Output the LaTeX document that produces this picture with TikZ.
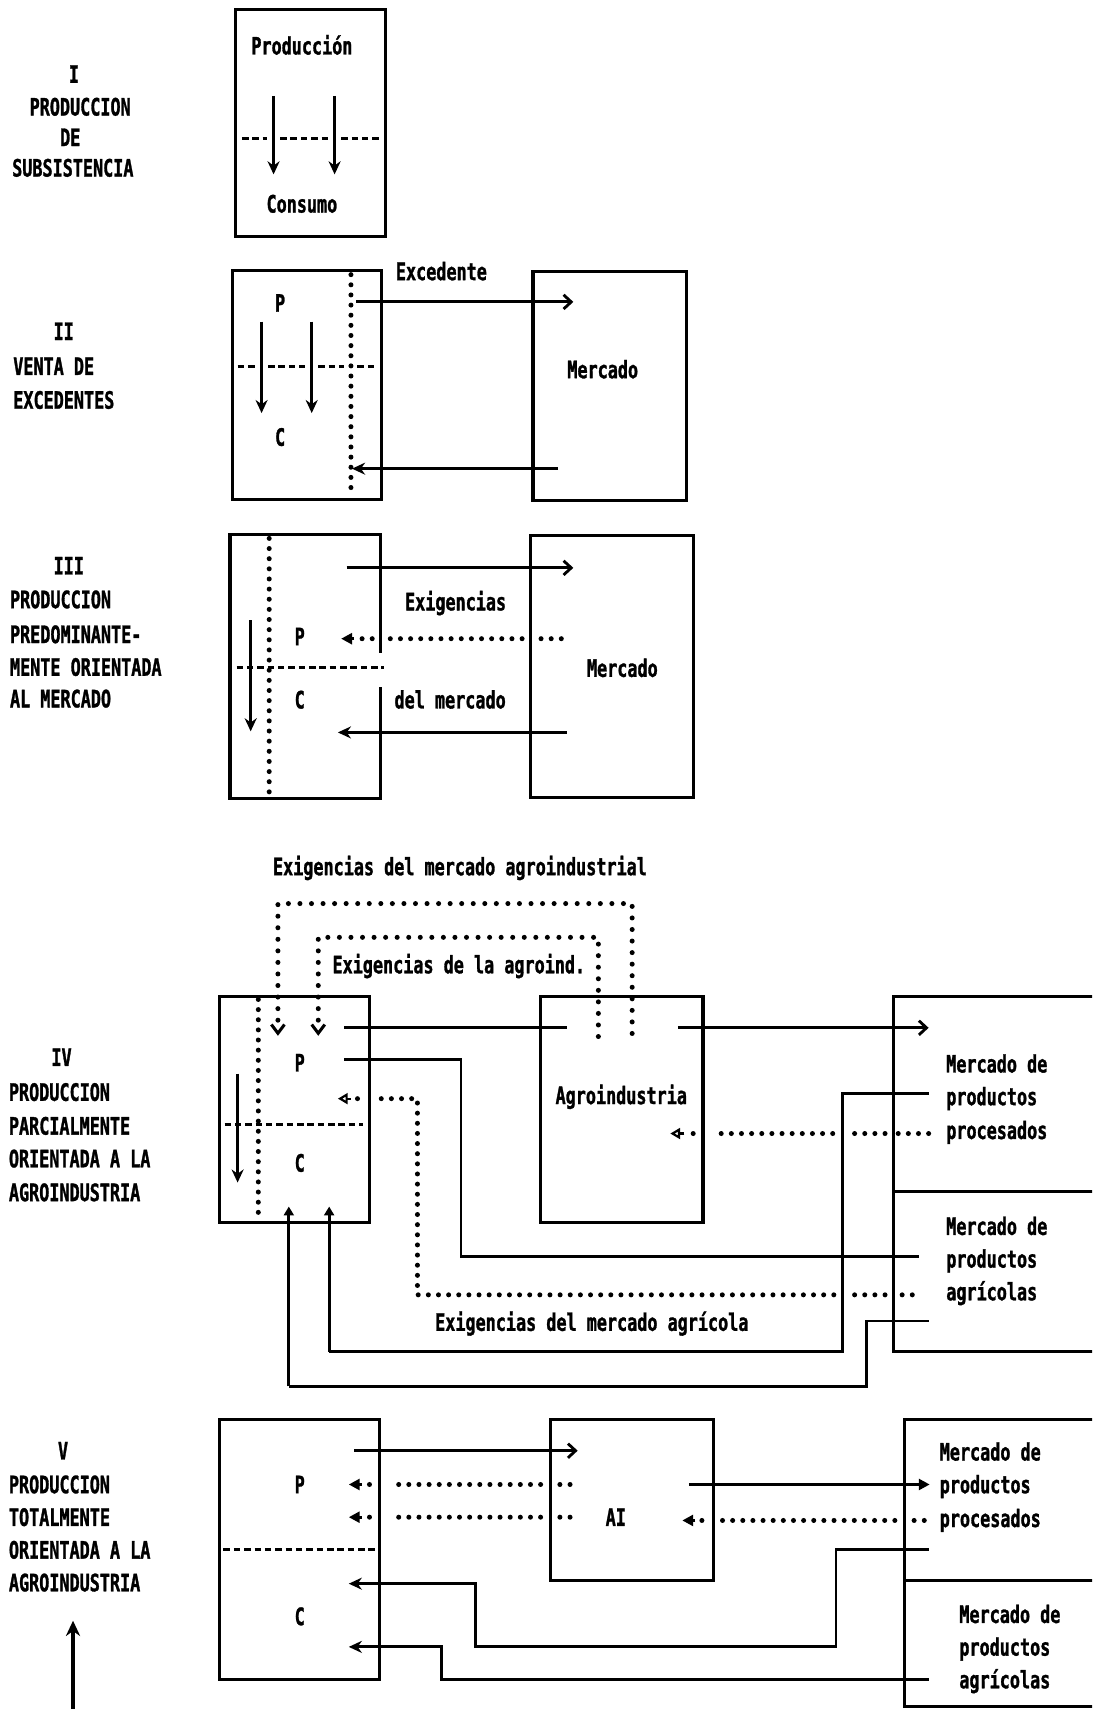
\documentclass[tikz,border=0pt]{standalone}
\usepackage{fontspec}
\newfontfamily\dm{DejaVu Sans Mono}[FakeStretch=0.70,FakeBold=1.2]
\usetikzlibrary{arrows.meta}
\tikzset{
  bx/.style={draw, line width=2.8pt, inner sep=0pt, outer sep=0pt, anchor=north west},
  bxn/.style={inner sep=0pt, outer sep=0pt, anchor=north west},
  bl/.style={line width=2.8pt},
  tx/.style={font=\dm\bfseries\fontsize{22}{26}\selectfont, inner sep=0pt, anchor=base, yshift=-8pt},
  lt/.style={tx, anchor=base west},
  ln/.style={line width=2.6pt},
  barb/.style={ln, -{Straight Barb[length=7pt,width=13pt,line width=2.6pt]}},
  stl/.style={ln, -{Stealth[length=12pt,width=11pt]}},
  tri/.style={ln, -{Triangle[length=10pt,width=10pt]}},
  stri/.style={ln, -{Triangle[length=8pt,width=9pt]}},
  otri/.style={line width=2pt, -{Triangle[open,length=9pt,width=10pt]}},
  dots/.style={line width=4.6pt, line cap=round, dash pattern=on 0pt off 9.3pt},
  wdots/.style={line width=4.6pt, line cap=round, dash pattern=on 0pt off 10.6pt},
  dsh/.style={line width=2.8pt, dash pattern=on 6pt off 3.5pt},
  chev/.style={line width=2.8pt},
}
\begin{document}
\begin{tikzpicture}[x=1pt,y=-1pt]
\useasboundingbox (0,0) rectangle (1002,1568);
\clip (0,0) rectangle (1002,1568);
\fill[white] (0,0) rectangle (1002,1568);

% ---------------- Section I ----------------
\node[lt] (l1a) at (63,68) {I};
\node[lt] (l1b) at (27,98) {PRODUCCION};
\node[lt] (l1c) at (55,126) {DE};
\node[lt] (l1d) at (11,154) {SUBSISTENCIA};
\node[bx, minimum width=138pt, minimum height=208pt] (b1) at (216,9) {};
\node[tx] (t1a) at (277,42) {Producción};
\node[tx] (t1b) at (277,187) {Consumo};
\path (251,88) coordinate (i1a) (251,160) coordinate (i1b)
      (307,88) coordinate (i2a) (307,160) coordinate (i2b)
      (222,127) coordinate (id1) (245,127) coordinate (id2)
      (257,127) coordinate (id3) (301,127) coordinate (id4)
      (313,127) coordinate (id5) (348,127) coordinate (id6);
\draw[stl] (i1a) -- (i1b);
\draw[stl] (i2a) -- (i2b);
\draw[dsh] (id1) -- (id2) (id3) -- (id4) (id5) -- (id6);

% ---------------- Section II ----------------
\node[lt] (l2a) at (49,304) {II};
\node[lt] (l2b) at (12,336) {VENTA DE};
\node[lt] (l2c) at (12,367) {EXCEDENTES};
\node[bx, minimum width=137pt, minimum height=210pt] (b2l) at (213,248) {};
\node[bx, minimum width=141pt, minimum height=210pt] (b2r) at (489,249) {};
\node[tx] (t2p) at (257,278) {P};
\node[tx] (t2c) at (257,401) {C};
\node[tx] (t2m) at (553,339) {Mercado};
\node[tx] (t2e) at (405,249) {Excedente};
\path (240,295) coordinate (j1a) (240,379) coordinate (j1b)
      (286,295) coordinate (j2a) (286,379) coordinate (j2b)
      (218,336) coordinate (jd1) (234,336) coordinate (jd2)
      (246,336) coordinate (jd3) (280,336) coordinate (jd4)
      (292,336) coordinate (jd5) (316,336) coordinate (jd6)
      (328,336) coordinate (jd7) (346,336) coordinate (jd8)
      (322,252) coordinate (jv1) (322,455) coordinate (jv2)
      (327,277) coordinate (je1) (526,277) coordinate (je2)
      (512,430) coordinate (jr1) (323,430) coordinate (jr2);
\draw[stl] (j1a) -- (j1b);
\draw[stl] (j2a) -- (j2b);
\draw[dsh] (jd1) -- (jd2) (jd3) -- (jd4) (jd5) -- (jd6) (jd7) -- (jd8);
\draw[dots] (jv1) -- (jv2);
\draw[barb] (je1) -- (je2);
\draw[stl] (jr1) -- (jr2);

% ---------------- Section III ----------------
\node[lt] (l3a) at (49,519) {III};
\node[lt] (l3b) at (9,550) {PRODUCCION};
\node[lt] (l3c) at (9,582) {PREDOMINANTE-};
\node[lt] (l3d) at (9,612) {MENTE ORIENTADA};
\node[lt] (l3e) at (9,641) {AL MERCADO};
\node[bxn, minimum width=138pt, minimum height=243pt] (b3l) at (211,490) {};
\draw[bl] ([yshift=-109pt]b3l.north east) -- (b3l.north east) -- (b3l.north west)
   -- (b3l.south west) -- (b3l.south east) -- ([yshift=103pt]b3l.south east);
\node[bx, minimum width=149pt, minimum height=241pt] (b3r) at (487,491) {};
\node[tx] (t3p) at (275,584) {P};
\node[tx] (t3c) at (275,642) {C};
\node[tx] (t3x) at (418,552) {Exigencias};
\node[tx] (t3d) at (413,642) {del mercado};
\node[tx] (t3m) at (571,613) {Mercado};
\path (247,494) coordinate (kv1) (247,730) coordinate (kv2)
      (230,569) coordinate (ka1) (230,671) coordinate (ka2)
      (217,612) coordinate (kd1) (352,612) coordinate (kd2)
      (318,521) coordinate (kt1) (526,521) coordinate (kt2)
      (520,672) coordinate (kb1) (310,672) coordinate (kb2)
      (515,586) coordinate (kp1) (496,586) coordinate (kp2)
      (479,586) coordinate (kp3) (355,586) coordinate (kp4)
      (341.5,586) coordinate (kp5) (332,586) coordinate (kp6)
      (325,586) coordinate (kh1) (313,586) coordinate (kh2);
\draw[dots] (kv1) -- (kv2);
\draw[stl] (ka1) -- (ka2);
\draw[dsh] (kd1) -- (kd2);
\draw[barb] (kt1) -- (kt2);
\draw[stl] (kb1) -- (kb2);
\draw[dots] (kp1) -- (kp2) (kp3) -- (kp4) (kp5) -- (kp6);
\draw[tri] (kh1) -- (kh2);

% ---------------- Section IV ----------------
\node[lt] (l4a) at (47,970) {IV};
\node[lt] (l4b) at (8,1002) {PRODUCCION};
\node[lt] (l4c) at (8,1033) {PARCIALMENTE};
\node[lt] (l4d) at (8,1063) {ORIENTADA A LA};
\node[lt] (l4e) at (8,1094) {AGROINDUSTRIA};
\node[tx] (t4top) at (422,795) {Exigencias del mercado agroindustrial};
\node[tx] (t4in) at (421,885) {Exigencias de la agroind.};
\path (255,936) coordinate (m1a) (255,829) coordinate (m1b)
      (580,829) coordinate (m1c) (580,951) coordinate (m1d)
      (292,936) coordinate (m2a) (292,860) coordinate (m2b)
      (549,860) coordinate (m2c) (549,951) coordinate (m2d)
      (249,940) coordinate (c1a) (255,948) coordinate (c1b) (261,940) coordinate (c1c)
      (286,940) coordinate (c2a) (292,948) coordinate (c2b) (298,940) coordinate (c2c);
\draw[wdots] (m1a) -- (m1b) -- (m1c) -- (m1d);
\draw[wdots] (m2a) -- (m2b) -- (m2c) -- (m2d);
\draw[chev] (c1a) -- (c1b) -- (c1c);
\draw[chev] (c2a) -- (c2b) -- (c2c);
\path (237,917) coordinate (nv1) (237,1120) coordinate (nv2)
      (218,985) coordinate (na1) (218,1085) coordinate (na2)
      (206,1032) coordinate (nd1) (333,1032) coordinate (nd2)
      (316,943) coordinate (pa1) (520,943) coordinate (pa2)
      (622,943) coordinate (pb1) (852,943) coordinate (pb2)
      (316,972) coordinate (pc1) (423,972) coordinate (pc2)
      (423,1153) coordinate (pc3) (843,1153) coordinate (pc4)
      (852,1003) coordinate (pf1) (773,1003) coordinate (pf2)
      (773,1240) coordinate (pf3) (302,1240) coordinate (pf4) (302,1107) coordinate (pf5)
      (852,1212) coordinate (pg1) (795,1212) coordinate (pg2)
      (795,1272) coordinate (pg3) (265,1272) coordinate (pg4) (265,1107) coordinate (pg5)
      (852,1040) coordinate (qd1) (824,1040) coordinate (qd2)
      (812,1040) coordinate (qd3) (783,1040) coordinate (qd4)
      (764,1040) coordinate (qd5) (653,1040) coordinate (qd6)
      (636,1040) coordinate (qd7) (634,1040) coordinate (qd8)
      (628,1040) coordinate (qdh1) (615,1040) coordinate (qdh2)
      (837,1188) coordinate (qe1) (827,1188) coordinate (qe2)
      (812,1188) coordinate (qe3) (783,1188) coordinate (qe4)
      (765,1188) coordinate (qe5) (383,1188) coordinate (qe6)
      (383,1008) coordinate (qe7) (346,1008) coordinate (qe8)
      (328,1008) coordinate (qe9) (326,1008) coordinate (qe10)
      (322,1008) coordinate (qeh1) (310,1008) coordinate (qeh2)
      (820,1093) coordinate (mdv1) (1010,1093) coordinate (mdv2);
\draw[dots] (nv1) -- (nv2);
\draw[stl] (na1) -- (na2);
\draw[dsh] (nd1) -- (nd2);
\draw[ln] (pa1) -- (pa2);
\draw[barb] (pb1) -- (pb2);
\draw[ln] (pc1) -- (pc2) -- (pc3) -- (pc4);
\draw[ln] (pf1) -- (pf2) -- (pf3) -- (pf4);
\draw[stri] (pf4) -- (pf5);
\draw[ln] (pg1) -- (pg2) -- (pg3) -- (pg4);
\draw[stri] (pg4) -- (pg5);
\draw[dots] (qd1) -- (qd2) (qd3) -- (qd4) (qd5) -- (qd6) (qd7) -- (qd8);
\draw[otri] (qdh1) -- (qdh2);
\draw[dots] (qe1) -- (qe2) (qe3) -- (qe4) (qe5) -- (qe6) -- (qe7) -- (qe8) (qe9) -- (qe10);
\draw[otri] (qeh1) -- (qeh2);
\node[bx, minimum width=138pt, minimum height=208pt] (b4l) at (201,914) {};
\node[bx, minimum width=149pt, minimum height=208pt] (b4a) at (496,914) {};
\node[bx, minimum width=200pt, minimum height=326pt] (b4m) at (820,914) {};
\draw[bl] (mdv1) -- (mdv2);
\node[tx] (t4p) at (275,975) {P};
\node[tx] (t4c) at (275,1067) {C};
\node[tx] (t4a) at (570,1005) {Agroindustria};
\node[tx] (t4e) at (543,1213) {Exigencias del mercado agrícola};
\node[lt] (t4m1) at (868,976) {Mercado de};
\node[lt] (t4m2) at (868,1006) {productos};
\node[lt] (t4m3) at (868,1037) {procesados};
\node[lt] (t4m4) at (868,1125) {Mercado de};
\node[lt] (t4m5) at (868,1155) {productos};
\node[lt] (t4m6) at (868,1185) {agrícolas};

% ---------------- Section V ----------------
\node[lt] (l5a) at (53,1331) {V};
\node[lt] (l5b) at (8,1362) {PRODUCCION};
\node[lt] (l5c) at (8,1392) {TOTALMENTE};
\node[lt] (l5d) at (8,1422) {ORIENTADA A LA};
\node[lt] (l5e) at (8,1452) {AGROINDUSTRIA};
\path (67,1575) coordinate (up1) (67,1487) coordinate (up2);
\draw[line width=3pt, -{Stealth[length=14pt,width=13pt]}] (up1) -- (up2);
\path (205,1422) coordinate (vd1) (345,1422) coordinate (vd2)
      (325,1331) coordinate (va1) (530,1331) coordinate (va2)
      (523,1362) coordinate (w1a) (513,1362) coordinate (w1b)
      (496,1362) coordinate (w1c) (357,1362) coordinate (w1d)
      (339,1362) coordinate (w1e) (337,1362) coordinate (w1f)
      (332,1362) coordinate (w1h) (320,1362) coordinate (w1t)
      (523,1392) coordinate (w2a) (513,1392) coordinate (w2b)
      (496,1392) coordinate (w2c) (357,1392) coordinate (w2d)
      (339,1392) coordinate (w2e) (337,1392) coordinate (w2f)
      (332,1392) coordinate (w2h) (320,1392) coordinate (w2t)
      (632,1362) coordinate (vb1) (853,1362) coordinate (vb2)
      (848,1395) coordinate (w3a) (838.5,1395) coordinate (w3b)
      (821,1395) coordinate (w3c) (662,1395) coordinate (w3d)
      (644,1395) coordinate (w3e) (642,1395) coordinate (w3f)
      (638,1395) coordinate (w3h) (626,1395) coordinate (w3t)
      (852,1422) coordinate (h1) (767,1422) coordinate (h2)
      (767,1511) coordinate (h3) (436,1511) coordinate (h4)
      (436,1453) coordinate (h5) (320,1453) coordinate (h6)
      (852,1541) coordinate (g1) (405,1541) coordinate (g2)
      (405,1511) coordinate (g3) (320,1511) coordinate (g4)
      (830,1450) coordinate (vdv1) (1010,1450) coordinate (vdv2);
\draw[dsh] (vd1) -- (vd2);
\draw[barb] (va1) -- (va2);
\draw[dots] (w1a) -- (w1b) (w1c) -- (w1d) (w1e) -- (w1f);
\draw[tri] (w1h) -- (w1t);
\draw[dots] (w2a) -- (w2b) (w2c) -- (w2d) (w2e) -- (w2f);
\draw[tri] (w2h) -- (w2t);
\draw[tri] (vb1) -- (vb2);
\draw[dots] (w3a) -- (w3b) (w3c) -- (w3d) (w3e) -- (w3f);
\draw[tri] (w3h) -- (w3t);
\draw[stl] (h1) -- (h2) -- (h3) -- (h4) -- (h5) -- (h6);
\draw[stl] (g1) -- (g2) -- (g3) -- (g4);
\node[bx, minimum width=147pt, minimum height=239pt] (b5l) at (201,1302) {};
\node[bx, minimum width=150pt, minimum height=148pt] (b5a) at (505,1302) {};
\node[bx, minimum width=200pt, minimum height=264pt] (b5m) at (830,1302) {};
\draw[bl] (vdv1) -- (vdv2);
\node[tx] (t5p) at (275,1362) {P};
\node[tx] (t5c) at (275,1483) {C};
\node[tx] (t5ai) at (565,1392) {AI};
\node[lt] (t5m1) at (862,1332) {Mercado de};
\node[lt] (t5m2) at (862,1362) {productos};
\node[lt] (t5m3) at (862,1393) {procesados};
\node[lt] (t5m4) at (880,1481) {Mercado de};
\node[lt] (t5m5) at (880,1511) {productos};
\node[lt] (t5m6) at (880,1541) {agrícolas};
\end{tikzpicture}
\end{document}
